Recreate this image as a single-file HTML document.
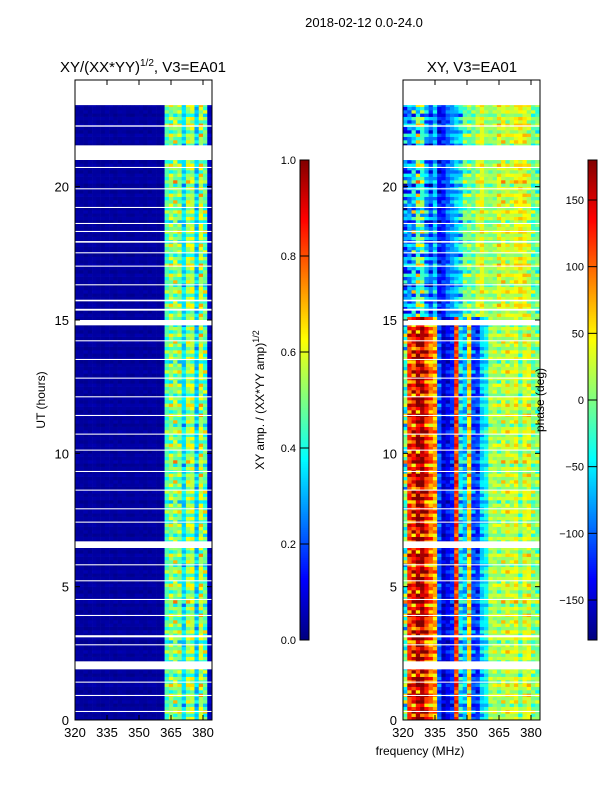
<!DOCTYPE html>
<html><head><meta charset="utf-8">
<style>
html,body{margin:0;padding:0;background:#fff;}
svg{display:block;font-family:"Liberation Sans","DejaVu Sans",sans-serif;}
</style></head>
<body>
<svg id="fig" width="600" height="800" xmlns="http://www.w3.org/2000/svg">
<rect width="600" height="800" fill="#fff"/>
<text x="364" y="27" font-size="13" text-anchor="middle">2018-02-12 0.0-24.0</text>
<text x="143" y="72" font-size="15" text-anchor="middle">XY/(XX*YY)<tspan dy="-6" font-size="10">1/2</tspan><tspan dy="6">, V3=EA01</tspan></text>
<text x="472" y="72" font-size="15" text-anchor="middle">XY, V3=EA01</text>
<text x="420" y="755" font-size="12" text-anchor="middle">frequency (MHz)</text>
<text transform="translate(45,400) rotate(-90)" font-size="12" text-anchor="middle">UT (hours)</text>
<text transform="translate(264,400) rotate(-90)" font-size="12" text-anchor="middle">XY amp. / (XX*YY amp)<tspan dy="-5" font-size="9">1/2</tspan></text>
<g id="left"></g>
<g id="right"></g>
<g id="cb"></g>
<g id="axes"></g>
<text transform="translate(544,400) rotate(-90)" font-size="12" text-anchor="middle">phase (deg)</text>
</svg>
<script>
const ticksX=[320,335,350,365,380];
const ticksY=[0,5,10,15,20];
const ampTicks=[0.0,0.2,0.4,0.6,0.8,1.0];
const phaseTicks=[-150,-100,-50,0,50,100,150];
const freqBins=[320,322,324,326,328,330,332,334,336,338,340,342,344,346,348,350,352,354,356,358,360,362,364,366,368,370,372,374,376,378,380,382];
const ampBase=[0.03,0.03,0.03,0.03,0.03,0.03,0.03,0.03,0.03,0.03,0.03,0.03,0.03,0.03,0.03,0.03,0.03,0.03,0.03,0.03,0.04,0.42,0.5,0.55,0.5,0.32,0.55,0.58,0.3,0.55,0.5,0.06];
const ampVar=[0.02,0.02,0.02,0.02,0.02,0.02,0.02,0.02,0.02,0.02,0.02,0.02,0.02,0.02,0.02,0.02,0.02,0.02,0.02,0.02,0.02,0.15,0.18,0.2,0.18,0.12,0.2,0.2,0.12,0.2,0.18,0.03];
const phaseBase=[-40,110,150,160,150,130,100,60,-110,-150,-140,-130,120,-40,-80,50,-100,-120,-70,-40,20,10,0,30,25,10,40,0,20,30,10,0];
const phaseUpper=[-120,-90,-40,-20,-40,-70,-100,-80,-140,-120,-100,-90,-60,-40,-20,-10,0,20,30,10,10,0,30,40,20,10,40,50,30,20,0,-10];
const phaseVar=[120,60,110,120,110,90,70,60,40,25,30,40,50,80,60,60,40,40,40,40,40,40,50,50,50,50,50,50,50,50,50,50];
const rowJitter=[0.3,-0.5,0.8,0.1,-0.9,0.4,-0.2,0.7,-0.6,0.0,0.9,-0.3,0.5,-0.8,0.2,-0.1,0.6,-0.7,0.35,-0.45,0.85,-0.15,0.05,-0.95,0.55,-0.25,0.75,-0.65,0.15,0.45,-0.35,0.65,-0.55,0.25,-0.85,0.95,-0.05,0.4,-0.6,0.1,0.7,-0.4];
const gaps=[[23.06,24],[21.0,21.55],[14.8,15.0],[6.45,6.7],[1.9,2.2],[22.25,22.3],[20.7,20.74],[19.9,19.94],[19.2,19.24],[18.6,18.64],[18.3,18.34],[17.9,17.96],[17.5,17.54],[17.0,17.04],[16.3,16.34],[15.7,15.76],[15.35,15.42],[14.2,14.24],[13.5,13.54],[12.8,12.84],[12.1,12.14],[11.4,11.44],[10.7,10.74],[10.1,10.14],[9.3,9.34],[8.6,8.64],[7.9,7.94],[7.4,7.44],[5.8,5.84],[5.2,5.24],[4.5,4.54],[3.9,3.94],[3.1,3.18],[2.8,2.84],[1.4,1.44],[0.9,0.94],[0.3,0.34]];

const NS="http://www.w3.org/2000/svg";
function mk(tag,attrs,parent){const e=document.createElementNS(NS,tag);for(const k in attrs)e.setAttribute(k,attrs[k]);parent.appendChild(e);return e;}
function jet(v){v=Math.max(0,Math.min(1,v));
 const r=Math.max(0,Math.min(1,1.5-Math.abs(4*v-3))),g=Math.max(0,Math.min(1,1.5-Math.abs(4*v-2))),b=Math.max(0,Math.min(1,1.5-Math.abs(4*v-1)));
 return `rgb(${Math.round(r*255)},${Math.round(g*255)},${Math.round(b*255)})`;}
const yTop=80,yBot=720,hMax=24;
function yS(h){return yBot-(h/hMax)*(yBot-yTop);}
function xL(f){return 75+(f-320)*128/60;}
function xR(f){return 403+(f-320)*128/60;}
const dataTop=23.06,rowH=0.125,nRows=Math.ceil(dataTop/rowH);

function drawPanel(g,xS,base,upper,vari,norm,x0){
 for(let i=0;i<nRows;i++){
  const h0=i*rowH,h1=Math.min(dataTop,h0+rowH);
  const rj=rowJitter[i%rowJitter.length];
  const b=(upper&&h0>15)?upper:base;
  for(let j=0;j<freqBins.length;j++){
   const cj=rowJitter[(i*7+j*3)%rowJitter.length];
   const v=b[j]+vari[j]*(0.6*rj+0.6*cj);
   const x1=xS(freqBins[j]),x2=Math.min(x0+137,xS(freqBins[j]+2));
   const r=mk('rect',{x:x1,y:yS(h1),width:x2-x1+0.3,height:yS(h0)-yS(h1)+0.3,fill:jet(norm(v))},g);
   
   
  }
 }
 gaps.forEach(gp=>{const r=mk('rect',{x:x0,y:yS(gp[1]),width:137,height:yS(gp[0])-yS(gp[1]),fill:'#fff'},g);
  
  });
}
drawPanel(document.getElementById('left'),xL,ampBase,null,ampVar,v=>v,75);
drawPanel(document.getElementById('right'),xR,phaseBase,phaseUpper,phaseVar,v=>(v+180)/360,403);

const ax=document.getElementById('axes');
function frame(x0,xS,name){
 const f=mk('rect',{x:x0,y:80,width:137,height:640,fill:'none',stroke:'#000','stroke-width':1},ax);
 
 
 ticksX.forEach(t=>{const x=xS(t);mk('line',{x1:x,y1:720,x2:x,y2:715,stroke:'#000'},ax);mk('line',{x1:x,y1:80,x2:x,y2:85,stroke:'#000'},ax);
  const tx=mk('text',{x:x,y:737,'font-size':13,'text-anchor':'middle'},ax);tx.textContent=t;
  
  });
 ticksY.forEach(t=>{const y=yS(t);mk('line',{x1:x0,y1:y,x2:x0+5,y2:y,stroke:'#000'},ax);mk('line',{x1:x0+137,y1:y,x2:x0+132,y2:y,stroke:'#000'},ax);
  const tx=mk('text',{x:x0-6,y:y+5,'font-size':13,'text-anchor':'end'},ax);tx.textContent=t;
  
  });
}
frame(75,xL,'amp-axes-frame');
frame(403,xR,'phase-axes-frame');

const cb=document.getElementById('cb');
function colorbar(x,ticks,norm,fmt,name){
 for(let k=0;k<240;k++){const v=k/240;mk('rect',{x:x,y:640-(k+1)*2,width:9,height:2.2,fill:jet(v)},cb);}
 const f=mk('rect',{x:x,y:160,width:9,height:480,fill:'none',stroke:'#000'},cb);
 
 
 ticks.forEach(t=>{const y=640-norm(t)*480;mk('line',{x1:x,y1:y,x2:x+9,y2:y,stroke:'#000'},cb);
  const tx=mk('text',{x:x-4,y:y+4,'font-size':11,'text-anchor':'end'},cb);tx.textContent=fmt(t);
  
  });
}
colorbar(300,ampTicks,v=>v,t=>t.toFixed(1),'amp-colorbar');
colorbar(588,phaseTicks,v=>(v+180)/360,t=>(t<0?'\u2212'+(-t):''+t),'phase-colorbar');
</script>
</body></html>
